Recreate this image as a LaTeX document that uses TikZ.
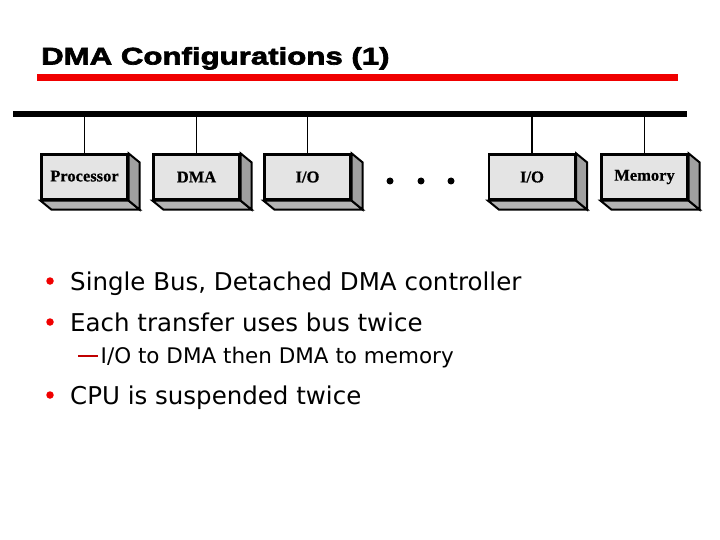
\documentclass[tikz,border=0pt]{standalone}
\usepackage{fontspec}
\setmainfont{DejaVu Sans}
\newfontfamily\titlefont[FakeStretch=1.3,FakeBold=2.8]{Liberation Sans Bold}
\newfontfamily\boxfont[FakeBold=0.6]{Liberation Serif Bold}
\definecolor{frontgray}{HTML}{E4E4E4}
\definecolor{sidegray}{HTML}{A0A0A0}
\definecolor{bottomgray}{HTML}{B4B4B4}
\definecolor{slidered}{HTML}{F00000}
\definecolor{dashred}{HTML}{C00000}
\tikzset{
  frontbox/.style={draw=black, line width=2.2pt, fill=frontgray, minimum width=86pt, minimum height=45pt, inner sep=0pt, font=\boxfont\fontsize{16.5}{16.5}\selectfont},
  sideface/.style={draw=black, line width=2pt, fill=sidegray, line join=miter},
  bottomface/.style={draw=black, line width=2pt, fill=bottomgray, line join=miter},
  stub/.style={line width=1.8pt},
  bullettext/.style={anchor=base west, inner sep=0pt, font=\fontsize{24.5}{24.5}\selectfont},
  subtext/.style={anchor=base west, inner sep=0pt, font=\fontsize{21.5}{21.5}\selectfont},
  reddot/.style={circle, fill=slidered, minimum size=7.5pt, inner sep=0pt},
  blackdot/.style={circle, fill=black, minimum size=7pt, inner sep=0pt}
}
\newcommand{\drawdepth}[1]{%
  \draw[bottomface] (#1.south west) -- (#1.south east) -- ++(11,9) -- ([shift={(11,9)}]#1.south west) -- cycle;
  \draw[sideface] (#1.north east) -- ++(11,9) -- ([shift={(11,9)}]#1.south east) -- (#1.south east) -- cycle;
}
\begin{document}
\begin{tikzpicture}[x=1pt,y=-1pt]
\useasboundingbox[fill=white] (0,0) rectangle (720,540);
% title
\node[anchor=base west, inner sep=0pt, font=\titlefont\fontsize{24}{24}\selectfont] (title) at (41,64.5) {DMA Configurations (1)};
\coordinate (redL) at (37,77.5);
\coordinate (redR) at (678,77.5);
\draw[slidered, line width=6.5pt] (redL) -- (redR);
% bus
\coordinate (busL) at (13,114);
\coordinate (busR) at (687,114);
\draw[line width=6pt] (busL) -- (busR);
% boxes
\node[frontbox] (proc) at (84.5,177) {\raisebox{2pt}{Processor}};
\node[frontbox] (dma) at (196.5,177) {DMA};
\node[frontbox] (io1) at (307.5,177) {I/O};
\node[frontbox] (io2) at (532,177) {I/O};
\node[frontbox] (mem) at (644.5,177) {\raisebox{2pt}{Memory}};
\foreach \b in {proc,dma,io1,io2,mem}{
  \drawdepth{\b}
  \draw[stub] (\b.north) -- (\b.north |- busL);
}
% dots
\node[blackdot] (d1) at (390,181) {};
\node[blackdot] (d2) at (421,181) {};
\node[blackdot] (d3) at (451,181) {};
% bullets
\node[reddot] (b1) at (50,281) {};
\node[bullettext] (t1) at (70,290) {Single Bus, Detached DMA controller};
\node[reddot] (b2) at (50,322) {};
\node[bullettext] (t2) at (70,331) {Each transfer uses bus twice};
\coordinate (dashL) at (78,355.5);
\coordinate (dashR) at (98,355.5);
\draw[dashred, line width=2pt] (dashL) -- (dashR);
\node[subtext] (t3) at (100.5,363) {I/O to DMA then DMA to memory};
\node[reddot] (b3) at (50,395) {};
\node[bullettext] (t4) at (70,404) {CPU is suspended twice};
\end{tikzpicture}
\end{document}
